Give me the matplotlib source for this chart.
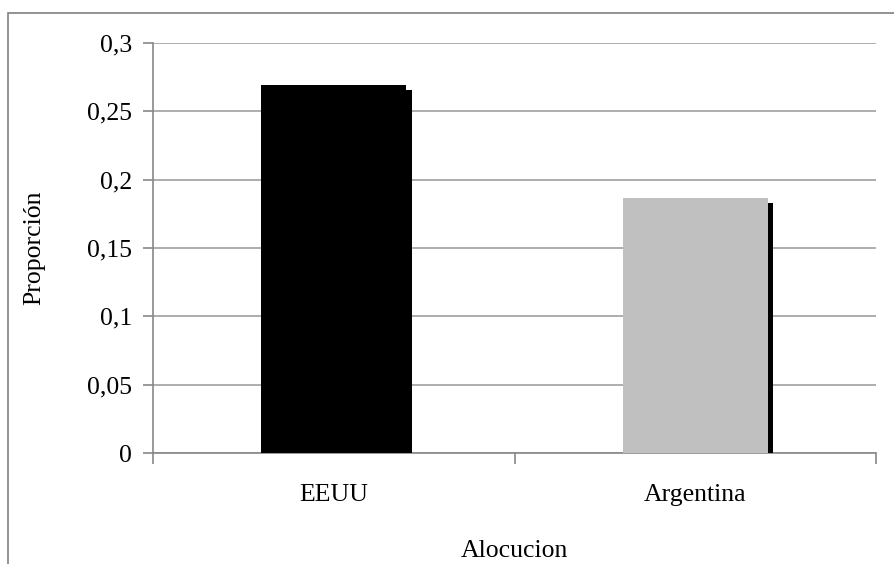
import matplotlib.pyplot as plt
import matplotlib.patheffects as pe
from matplotlib.patches import Rectangle

plt.rcParams['font.family'] = ['Liberation Serif', 'DejaVu Serif']

categories = ['EEUU', 'Argentina']
values = [0.2693, 0.1866]
colors = ['black', '#c0c0c0']
yticks = [0, 0.05, 0.1, 0.15, 0.2, 0.25, 0.3]
yticklabels = ['0', '0,05', '0,1', '0,15', '0,2', '0,25', '0,3']

W, H = 894, 564
fig = plt.figure(figsize=(W / 100, H / 100), dpi=100)
ax = fig.add_axes([153 / W, 1 - 453 / H, (876 - 153) / W, (453 - 43) / H])

# outer chart border (runs off the right and bottom edge)
fig.patches.append(Rectangle((8 / W, -0.05), 1.0, 1 - 13 / H + 0.05,
                             transform=fig.transFigure, fill=False,
                             edgecolor='#808080', linewidth=1.2))

xpos = list(range(len(categories)))
bars = ax.bar(xpos, values, width=0.40, color=colors, zorder=3)
for b in bars:
    b.set_path_effects([pe.SimplePatchShadow(offset=(4, -3.6), shadow_rgbFace='black', alpha=1.0),
                        pe.Normal()])

ax.set_xlim(-0.5, 1.5)
ax.set_ylim(0, 0.3)
ax.set_yticks(yticks)
ax.set_yticklabels(yticklabels, fontsize=18.5)
ax.yaxis.grid(True, color='#a0a0a0', linewidth=1.2, zorder=0)

ax.set_xticks([-0.5, 0.5, 1.5])
ax.set_xticklabels([])
ax.set_xticks(xpos, minor=True)
ax.set_xticklabels(categories, minor=True, fontsize=18.5)
ax.tick_params(axis='x', which='minor', length=0, pad=22)
ax.tick_params(axis='x', which='major', length=8, color='#888888', width=1.2)
ax.tick_params(axis='y', length=7, color='#888888', width=1.2, pad=8)

for s in ['top', 'right']:
    ax.spines[s].set_visible(False)
for s in ['left', 'bottom']:
    ax.spines[s].set_color('#888888')
    ax.spines[s].set_linewidth(1.2)

ax.set_xlabel('Alocucion', fontsize=18.5, labelpad=25)
ax.set_ylabel('Proporción', fontsize=18.5, labelpad=30)

fig.savefig('out.png', dpi=100)
